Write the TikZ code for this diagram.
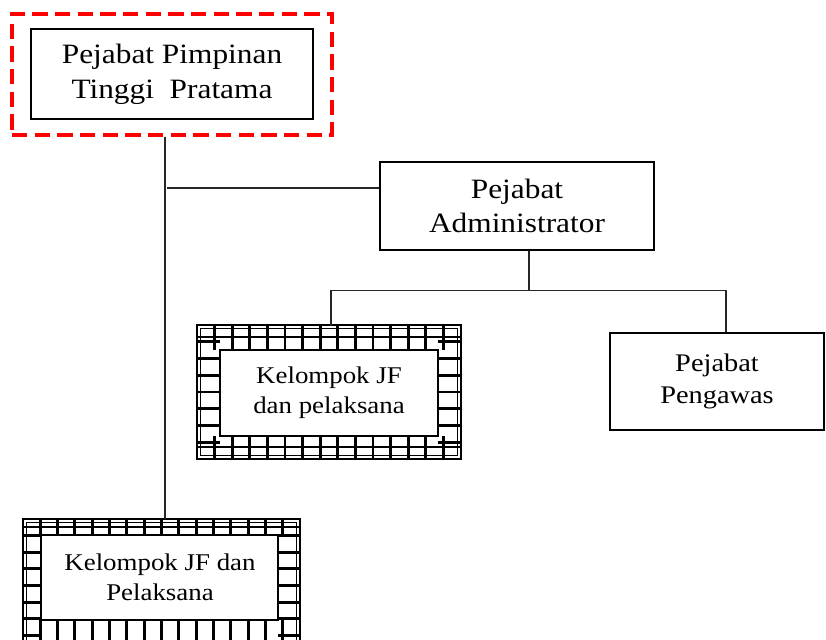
\documentclass[tikz,border=0pt]{standalone}
\usepackage{fontspec}
\setmainfont[FakeStretch=1.12]{Liberation Serif}

% Grid-art border: #1..#4 outer corners, #5 top band, #6 left band,
% #7 right band, #8 bottom band, #9 inset of the extra band line
\newcommand\gridframe[9]{%
  \pgfmathtruncatemacro\gfn{round((#3-#1)/17.4)}%
  \pgfmathtruncatemacro\gfm{round((#4-#2)/16.7)}%
  \pgfmathsetmacro\gfdx{(#3-#1)/\gfn}%
  \pgfmathsetmacro\gfdy{(#4-#2)/\gfm}%
  \pgfmathtruncatemacro\gfnl{\gfn-1}%
  \pgfmathtruncatemacro\gfml{\gfm-1}%
  \draw[line width=2pt] (#1,#2) rectangle (#3,#4);
  \draw[line width=1.2pt] (#1+3.5,#2+3.5) rectangle (#3-3.5,#4-3.5);
  \draw[line width=1.6pt] (#1,#2+#9) -- (#3,#2+#9) (#1,#4-#9) -- (#3,#4-#9);
  \foreach \i in {1,...,\gfnl}{
    \draw[line width=2.2pt] (#1+\i*\gfdx,#2) -- (#1+\i*\gfdx,#2+#5)
                            (#1+\i*\gfdx,#4-#8) -- (#1+\i*\gfdx,#4);
  }
  \foreach \j in {1,...,\gfml}{
    \draw[line width=2.2pt] (#1,#2+\j*\gfdy) -- (#1+#6,#2+\j*\gfdy)
                            (#3-#7,#2+\j*\gfdy) -- (#3,#2+\j*\gfdy);
  }
  \draw[line width=1.8pt,fill=white] (#1+#6,#2+#5) rectangle (#3-#7,#4-#8);
}

\begin{document}
\begin{tikzpicture}[x=0.75pt,y=-0.75pt,
  box/.style={draw=black,line width=1.6pt,fill=white,align=center,inner sep=0pt},
  plain/.style={align=center,inner sep=0pt},
  big/.style={font=\fontsize{21}{26}\selectfont},
  mid/.style={font=\fontsize{19}{24}\selectfont},
  small/.style={font=\fontsize{18}{22.5}\selectfont},
  link/.style={draw=black!85,line width=0.8pt},
  redframe/.style={draw=red,line width=2.4pt,dash pattern=on 11.5pt off 5.5pt}
]
\useasboundingbox (0,0) rectangle (826,640);
\clip (0,0) rectangle (826,640);
\fill[white] (0,0) rectangle (826,640);

% top office with its dashed red frame
\node[redframe,minimum width=320*0.75pt,minimum height=121*0.75pt] (frame) at (172,74.5) {};
\node[box,big,minimum width=282*0.75pt,minimum height=90*0.75pt] (ppt) at (172,74)
  {Pejabat Pimpinan\\Tinggi~ Pratama};

% administrator
\node[box,big,minimum width=274*0.75pt,minimum height=88*0.75pt] (adm) at (517,206)
  {Pejabat\\Administrator};

% supervisor
\node[box,mid,minimum width=214*0.75pt,minimum height=97*0.75pt] (peng) at (717,381.5)
  {Pejabat\\Pengawas};

% functional groups with grid borders
\gridframe{197}{325}{461}{459}{25}{23}{23}{23}{12}
\node[plain,small,minimum width=264*0.75pt,minimum height=134*0.75pt] (jf1) at (329,393)
  {Kelompok JF\\dan pelaksana};

\gridframe{23}{519}{300}{652}{16}{18}{22}{32}{8}
\node[plain,small,minimum width=277*0.75pt,minimum height=116*0.75pt] (jf2) at (160,577)
  {Kelompok JF dan\\Pelaksana};

% connectors
\draw[link] ([xshift=-5.25pt]frame.south) -- ([xshift=-5.25pt]frame.south |- jf2.north);
\draw[link] ([yshift=13.5pt]adm.west) -- ++(-212,0);
\draw[link] ([xshift=9pt]adm.south) -- ++(0,39) coordinate (bus);
\draw[link] ([xshift=1.5pt]jf1.north) |- (bus) -| ([xshift=6.75pt]peng.north);
\end{tikzpicture}
\end{document}
